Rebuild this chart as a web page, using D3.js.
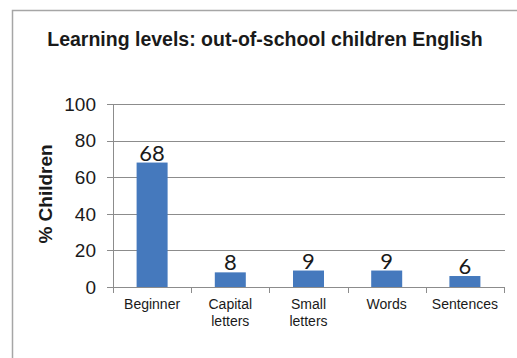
<!DOCTYPE html>
<html><head><meta charset="utf-8">
<script src="https://cdn.jsdelivr.net/npm/d3@7"></script>
<style>html,body{margin:0;padding:0;background:#fff;}svg{display:block;}</style>
</head><body>
<svg id="c" width="517" height="358"></svg>
<script>
const categories = [["Beginner"], ["Capital", "letters"], ["Small", "letters"], ["Words"], ["Sentences"]];
const values = [68, 8, 9, 9, 6];
const yTicks = [0, 20, 40, 60, 80, 100];
const title = "Learning levels: out-of-school children English";
const yTitle = "% Children";

const svg = d3.select("#c");
svg.append("rect").attr("x", 12.5).attr("y", 10.5).attr("width", 520).attr("height", 360)
  .attr("fill", "#fff").attr("stroke", "#a6a6a6").attr("stroke-width", 1.5);

const m = {left: 113, right: 504, top: 104, bottom: 287};
const x = d3.scaleBand().domain(d3.range(values.length)).range([m.left, m.right]).paddingInner(0).paddingOuter(0);
const y = d3.scaleLinear().domain([0, 100]).range([m.bottom, m.top]);

svg.append("g").selectAll("line").data(yTicks).join("line")
  .attr("x1", m.left - 6).attr("x2", m.right + 1)
  .attr("y1", d => Math.round(y(d)) + 0.5).attr("y2", d => Math.round(y(d)) + 0.5)
  .attr("stroke", "#8c8c8c").attr("stroke-width", 1);

svg.append("line").attr("x1", m.left + 0.5).attr("x2", m.left + 0.5)
  .attr("y1", m.top).attr("y2", m.bottom + 0.5).attr("stroke", "#8c8c8c");

const xt = d3.range(values.length + 1).map(i => i === values.length ? m.right : x(i));
svg.append("g").selectAll("line").data(xt).join("line")
  .attr("x1", d => Math.round(d) + 0.5).attr("x2", d => Math.round(d) + 0.5)
  .attr("y1", m.bottom).attr("y2", m.bottom + 6).attr("stroke", "#8c8c8c");

svg.append("g").selectAll("text").data(yTicks).join("text")
  .attr("x", 96).attr("y", d => y(d)).attr("dy", "0.36em")
  .attr("text-anchor", "end").attr("font-family", "Liberation Sans, Arial, sans-serif")
  .attr("font-size", 19).attr("fill", "#1a1a1a").text(d => d);

const bw = 31;
svg.append("g").selectAll("rect").data(values).join("rect")
  .attr("x", (d, i) => x(i) + x.bandwidth() / 2 - bw / 2)
  .attr("y", d => y(d)).attr("width", bw).attr("height", d => m.bottom - y(d))
  .attr("fill", "#4579bd");

svg.append("g").selectAll("text").data(values).join("text")
  .attr("x", (d, i) => x(i) + x.bandwidth() / 2).attr("y", d => y(d) - 2)
  .attr("text-anchor", "middle").attr("font-family", "Lato, Carlito, sans-serif")
  .attr("font-size", 22).attr("fill", "#1a1a1a").text(d => d);

const cl = svg.append("g").selectAll("text").data(categories).join("text")
  .attr("text-anchor", "middle").attr("font-family", "Liberation Sans, Arial, sans-serif")
  .attr("font-size", 14).attr("fill", "#1a1a1a");
cl.each(function(lines, i) {
  const t = d3.select(this);
  lines.forEach((s, j) => {
    t.append("tspan").attr("x", x(i) + x.bandwidth() / 2).attr("y", 309 + j * 17).text(s);
  });
});

svg.append("text").attr("x", 265).attr("y", 46).attr("text-anchor", "middle")
  .attr("font-family", "Liberation Sans, Arial, sans-serif").attr("font-weight", "bold")
  .attr("font-size", 19.5).attr("fill", "#1a1a1a").text(title);

svg.append("text").attr("transform", "translate(52,194) rotate(-90)")
  .attr("text-anchor", "middle").attr("font-family", "Liberation Sans, Arial, sans-serif")
  .attr("font-weight", "bold").attr("font-size", 19).attr("fill", "#1a1a1a").text(yTitle);
</script>
</body></html>
